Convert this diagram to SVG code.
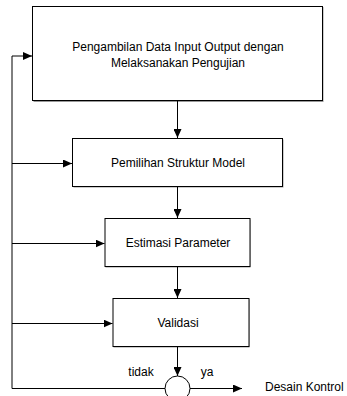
<svg xmlns="http://www.w3.org/2000/svg" width="347" height="396" viewBox="0 0 347 396">
<style>
.box{fill:#fff;stroke:#000;stroke-width:1}
.sh{fill:#999}
.t{font-family:"Liberation Sans",Arial,sans-serif;font-size:12px;fill:#000;text-anchor:middle;dominant-baseline:central}
.c{fill:none;stroke:#000;stroke-width:1}
</style>
<defs>
<marker id="ah" markerWidth="10" markerHeight="8" refX="9" refY="4" orient="auto" markerUnits="userSpaceOnUse">
<path d="M0,0 L9,4 L0,8 z" fill="#000"/>
</marker>
</defs>
<rect width="347" height="396" fill="#fff"/>
<g id="n1">
<rect class="sh" x="33.5" y="7" width="290" height="95"/>
<rect class="box" x="32.5" y="6.5" width="290" height="94"/>
<text class="t" x="178" y="47">Pengambilan Data Input Output dengan</text>
<text class="t" x="178" y="63">Melaksanakan Pengujian</text>
</g>
<g id="n2">
<rect class="sh" x="73.5" y="139.5" width="210" height="48"/>
<rect class="box" x="72.5" y="138.5" width="210" height="48"/>
<text class="t" x="178" y="163">Pemilihan Struktur Model</text>
</g>
<g id="n3">
<rect class="sh" x="105.5" y="219.5" width="145" height="48"/>
<rect class="box" x="105" y="218.5" width="145" height="48"/>
<text class="t" x="178" y="243">Estimasi Parameter</text>
</g>
<g id="n4">
<rect class="sh" x="113.5" y="299.5" width="136" height="48"/>
<rect class="box" x="113" y="298.5" width="136" height="48"/>
<text class="t" x="178" y="323">Validasi</text>
</g>
<g id="n5">
<circle class="box" cx="177.5" cy="388.5" r="12.5"/>
</g>
<g id="connectors">
<line class="c" x1="177.5" y1="101" x2="177.5" y2="138" marker-end="url(#ah)"/>
<line class="c" x1="177.5" y1="187" x2="177.5" y2="218" marker-end="url(#ah)"/>
<line class="c" x1="177.5" y1="267" x2="177.5" y2="298" marker-end="url(#ah)"/>
<line class="c" x1="177.5" y1="347" x2="177.5" y2="376" marker-end="url(#ah)"/>
<polyline class="c" points="165,388.5 12,388.5 12,56 32,56" marker-end="url(#ah)"/>
<line class="c" x1="12" y1="163.5" x2="72" y2="163.5" marker-end="url(#ah)"/>
<line class="c" x1="12" y1="243.5" x2="104.5" y2="243.5" marker-end="url(#ah)"/>
<line class="c" x1="12" y1="323.5" x2="112.5" y2="323.5" marker-end="url(#ah)"/>
<line class="c" x1="190" y1="388.5" x2="242" y2="388.5" marker-end="url(#ah)"/>
</g>
<text class="t" x="141" y="372">tidak</text>
<text class="t" x="207" y="372">ya</text>
<text class="t" x="265" y="387" style="text-anchor:start">Desain Kontrol</text>
</svg>
